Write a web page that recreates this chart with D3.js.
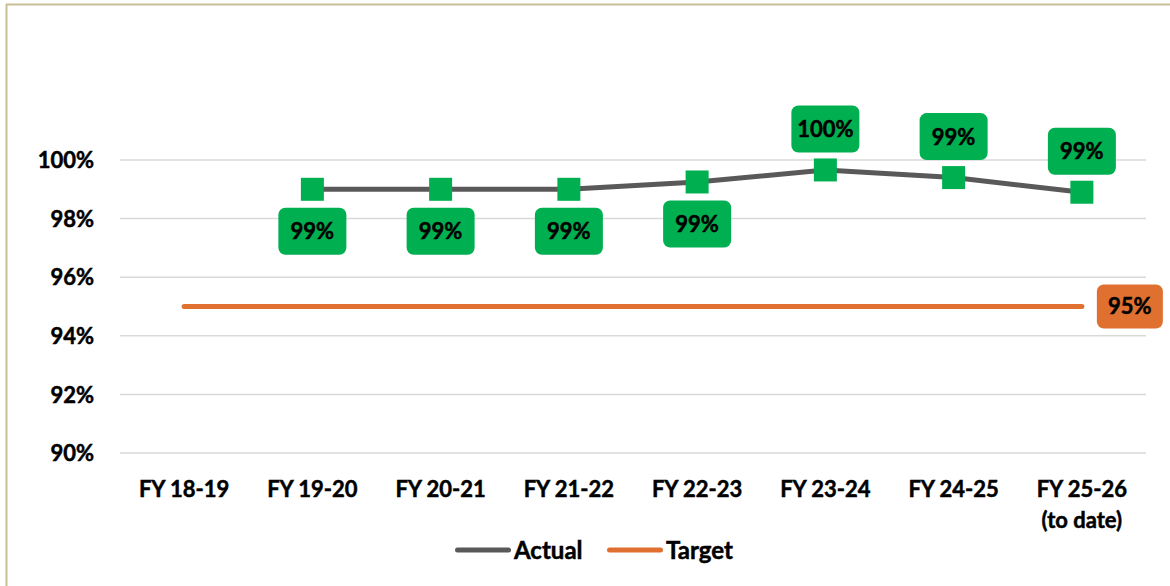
<!DOCTYPE html>
<html>
<head>
<meta charset="utf-8">
<script src="https://cdn.jsdelivr.net/npm/d3@7"></script>
<style>
html,body{margin:0;padding:0;background:#fff;}
svg{display:block;font-family:Lato,"Open Sans",sans-serif;font-weight:bold;}
svg text{stroke:#000;stroke-width:0.5px;}
</style>
</head>
<body>
<svg id="chart" width="1170" height="586"></svg>
<script>
const categories = ["FY 18-19","FY 19-20","FY 20-21","FY 21-22","FY 22-23","FY 23-24","FY 24-25","FY 25-26\n(to date)"];
const actual = [null, 99.0, 99.0, 99.0, 99.25, 99.66, 99.4, 98.9];
const actualLabels = [null, "99%", "99%", "99%", "99%", "100%", "99%", "99%"];
const labelBelow = [false, true, true, true, true, false, false, false];
const target = [95, 95, 95, 95, 95, 95, 95, 95];
const targetLabel = "95%";
const yTicks = [90, 92, 94, 96, 98, 100];
const seriesNames = ["Actual", "Target"];

const svg = d3.select("#chart");
const W = 1170, H = 586;
const FW = "bold";

// frame border
svg.append("line").attr("x1",6.5).attr("x2",6.5).attr("y1",4).attr("y2",H).attr("stroke","#c8bf96").attr("stroke-width",2);
svg.append("line").attr("x1",6).attr("x2",W).attr("y1",4.5).attr("y2",4.5).attr("stroke","#c8bf96").attr("stroke-width",2);

const x = d3.scaleBand().domain(categories).range([120, 1146]);
const y = d3.scaleLinear().domain([90, 100]).range([453, 160]);
const cx = c => x(c) + x.bandwidth()/2;

// gridlines
svg.append("g").selectAll("line").data(yTicks).join("line")
  .attr("x1",120).attr("x2",1146)
  .attr("y1",d=>y(d)).attr("y2",d=>y(d))
  .attr("stroke","#d9d9d9").attr("stroke-width",1.5);

// y axis labels
const yAxis = d3.axisLeft(y).tickValues(yTicks).tickFormat(d=>d+"%").tickSize(0).tickPadding(0);
const ya = svg.append("g").attr("transform","translate(94,0)").call(yAxis);
ya.select(".domain").remove();
ya.selectAll("text").attr("font-size",22).attr("font-family","Lato").attr("font-weight",FW).attr("fill","#000").attr("dy","0.35em");

// x axis labels
const xAxis = d3.axisBottom(x).tickSize(0).tickFormat("");
const xa = svg.append("g").attr("transform","translate(0,453)").call(xAxis);
xa.select(".domain").remove();
xa.selectAll(".tick").each(function(d){
  const lines = d.split("\n");
  const t = d3.select(this).append("text").attr("text-anchor","middle").attr("font-size",22)
    .attr("font-family","Lato").attr("font-weight",FW).attr("fill","#000");
  lines.forEach((l,i)=>t.append("tspan").attr("x",0).attr("y",44 + i*31).text(l));
});

// target line
const tData = categories.map((c,i)=>({c, v: target[i]}));
svg.append("path").datum(tData)
  .attr("d", d3.line().x(d=>cx(d.c)).y(d=>y(d.v)))
  .attr("fill","none").attr("stroke","#e07030").attr("stroke-width",5).attr("stroke-linecap","round");

// actual line
const aData = categories.map((c,i)=>({c, v: actual[i], lab: actualLabels[i], below: labelBelow[i]})).filter(d=>d.v!==null);
svg.append("path").datum(aData)
  .attr("d", d3.line().x(d=>cx(d.c)).y(d=>y(d.v)))
  .attr("fill","none").attr("stroke","#595959").attr("stroke-width",5);

// markers
svg.append("g").selectAll("rect").data(aData).join("rect")
  .attr("x",d=>cx(d.c)-11.5).attr("y",d=>y(d.v)-11.5)
  .attr("width",23).attr("height",23).attr("fill","#00b050");

// data labels
const lg = svg.append("g").selectAll("g").data(aData).join("g")
  .attr("transform",d=>`translate(${cx(d.c)},${y(d.v) + (d.below?42:-41)})`);
lg.append("rect").attr("x",-34).attr("y",-23.5).attr("width",68).attr("height",47).attr("rx",7)
  .attr("fill","#00b050");
lg.append("text").attr("text-anchor","middle").attr("dy","0.36em").attr("font-size",22)
  .attr("font-weight",FW).attr("fill","#000").text(d=>d.lab);

// target label
const last = categories[categories.length-1];
const tg = svg.append("g").attr("transform",`translate(${cx(last)+48},${y(target[target.length-1])})`);
tg.append("rect").attr("x",-33).attr("y",-22).attr("width",66).attr("height",44).attr("rx",7).attr("fill","#e07030");
tg.append("text").attr("text-anchor","middle").attr("dy","0.36em").attr("font-size",22).attr("font-weight",FW).attr("fill","#000").text(targetLabel);

// legend
const legend = [{name:seriesNames[0], color:"#595959", x:455},{name:seriesNames[1], color:"#e07030", x:607}];
const lgd = svg.append("g").selectAll("g").data(legend).join("g").attr("transform",d=>`translate(${d.x},550)`);
lgd.append("line").attr("x1",2.5).attr("x2",53.5).attr("stroke",d=>d.color).attr("stroke-width",5).attr("stroke-linecap","round");
lgd.append("text").attr("x",59).attr("dy","0.36em").attr("font-size",24).attr("font-weight",FW).attr("fill","#000").text(d=>d.name);
</script>
</body>
</html>
